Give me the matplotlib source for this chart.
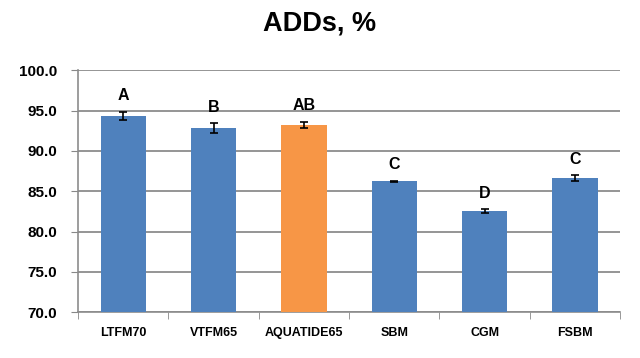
import matplotlib.pyplot as plt
import numpy as np

categories = ["LTFM70", "VTFM65", "AQUATIDE65", "SBM", "CGM", "FSBM"]
values = [94.3, 92.8, 93.2, 86.2, 82.5, 86.6]
errors = [0.5, 0.6, 0.4, 0.08, 0.25, 0.35]
letters = ["A", "B", "AB", "C", "D", "C"]
colors = ["#4F81BD", "#4F81BD", "#F79646", "#4F81BD", "#4F81BD", "#4F81BD"]

plt.rcParams["font.family"] = ["Liberation Sans", "DejaVu Sans"]

fig = plt.figure(figsize=(6.4, 3.58), dpi=100)
ax = fig.add_axes([0.122, 0.128, 0.847, 0.676])

x = np.arange(len(categories))
ax.bar(x, values, width=0.5, color=colors, zorder=3)
ax.errorbar(x, values, yerr=errors, fmt="none", ecolor="black",
            elinewidth=1.2, capsize=3, capthick=1.2, zorder=4)
for xi, v, e, lab in zip(x, values, errors, letters):
    ax.text(xi, v + e + 2.0, lab, ha="center", va="center",
            fontsize=11.5, fontweight="bold")

ax.set_ylim(70, 100)
ax.set_xlim(-0.5, len(categories) - 0.5)
ax.set_yticks(np.arange(70, 100.1, 5))
ax.set_yticklabels([f"{t:.1f}" for t in np.arange(70, 100.1, 5)],
                   fontsize=11, fontweight="bold")
ax.set_xticks(x)
ax.set_xticklabels(categories, fontsize=9, fontweight="bold")
ax.tick_params(axis="x", which="major", length=0, pad=11)
ax.set_xticks(np.arange(-0.5, len(categories), 1), minor=True)
ax.tick_params(axis="x", which="minor", length=5, color="#888888")
ax.tick_params(axis="y", length=5, color="#888888", pad=10)

ax.grid(axis="y", color="#8c8c8c", linewidth=1.3, zorder=0)
for s in ["top", "right"]:
    ax.spines[s].set_visible(False)
for s in ["left", "bottom"]:
    ax.spines[s].set_color("#8c8c8c")
    ax.spines[s].set_linewidth(1.2)

fig.text(0.5, 0.935, "ADDs, %", ha="center", va="center",
         fontsize=19.5, fontweight="bold")

fig.savefig("out.png", dpi=100)
